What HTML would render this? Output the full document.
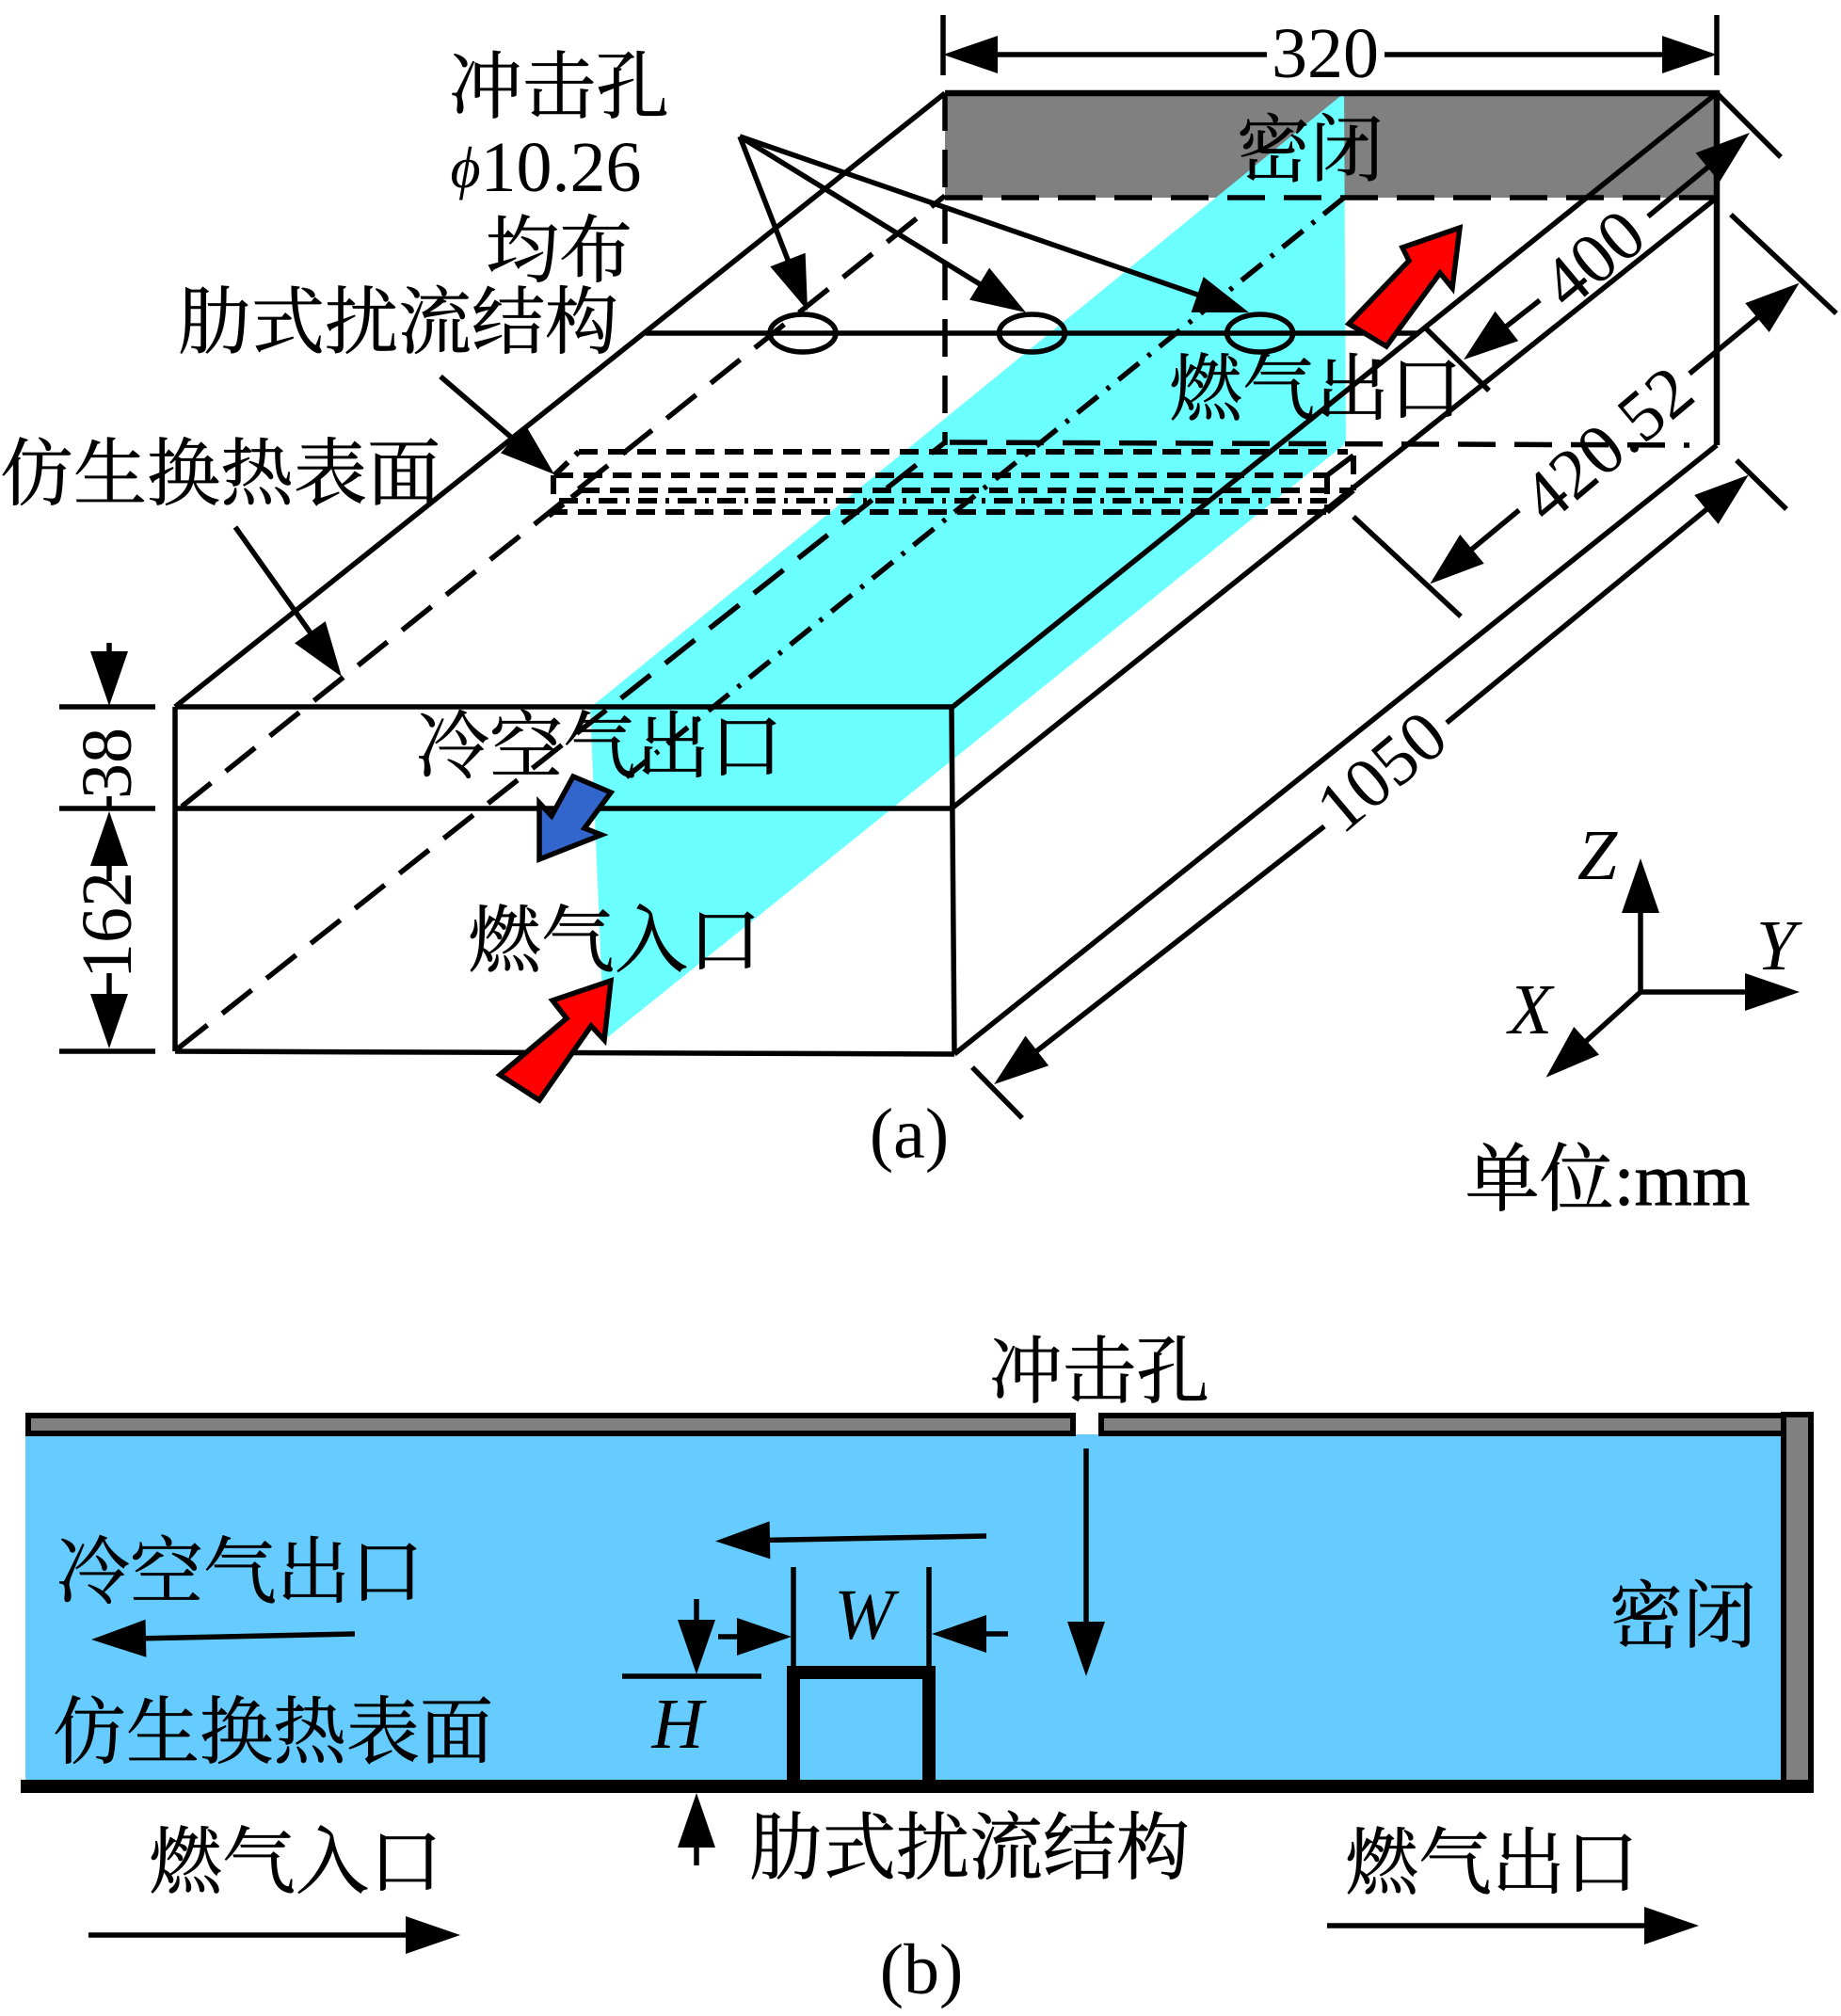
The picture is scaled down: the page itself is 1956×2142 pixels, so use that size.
<!DOCTYPE html>
<html lang="zh">
<head>
<meta charset="utf-8">
<title>冲击孔 diagram</title>
<style>
html,body{margin:0;padding:0;background:#fff;}
svg{display:block;}
.c{font-family:"Liberation Serif","Noto Serif CJK SC",serif;font-size:78px;text-anchor:middle;fill:#000;stroke:#000;stroke-width:.7px;}
.l{font-family:"Liberation Serif",serif;font-size:76px;text-anchor:middle;fill:#000;}
.i{font-style:italic;}
</style>
</head>
<body>
<svg width="1956" height="2142" viewBox="0 0 1956 2142" xmlns="http://www.w3.org/2000/svg">
<defs>
<marker id="a" markerUnits="userSpaceOnUse" markerWidth="64" markerHeight="44" viewBox="0 -22 62 44" refX="48" refY="0" orient="auto">
<path d="M0 -20L58 0L0 20Z" fill="#000"/>
</marker>
</defs>
<rect width="1956" height="2142" fill="#fff"/>

<!-- part (a) -->
<rect x="1004" y="99" width="820" height="111" fill="#808080"/>
<polygon points="1428,99 1430,471 642,1105 627,752" fill="#6bffff"/>

<g fill="none" stroke="#000" stroke-width="5.5">
<path d="M1004 99H1824V473" stroke-width="6.5"/>
<path d="M186 751L1004 99M186 751V1117M186 751H1011M186 859H1011M1011 751L1014 1120M186 1117L1014 1120"/>
<path d="M1011 752L1824 99M1011 859L1824 210M1014 1120L1824 473"/>
<path d="M686 354H1508"/>
<g stroke-dasharray="40 20">
<path d="M1004 99V473"/>
<path d="M193 857L1004 208"/>
<path d="M1004 210H1824"/>
<path d="M189 1114L1004 470"/>
<path d="M1009 470L1795 473"/>
</g>
<path d="M1428 210L660 830" stroke-dasharray="28 12 4 12"/>
<g stroke-width="6" stroke-dasharray="20 11">
<path d="M615 480H1432"/>
<path d="M589 505H1410"/>
<path d="M617 521H1438"/>
<path d="M583 544H1410"/>
<path d="M589 505L615 480M583 548L617 521M588 505V535"/>
<path d="M1410 505V544M1438 484V521"/>
</g>
<path d="M594 532H1410" stroke-width="6" stroke-dasharray="20 9 4 9"/>
<path d="M1410 505L1438 484M1410 544L1438 521"/>
<ellipse cx="853" cy="354" rx="35" ry="20"/>
<ellipse cx="1096.5" cy="354" rx="35" ry="20"/>
<ellipse cx="1338.6" cy="354" rx="35" ry="20"/>
</g>

<g fill="none" stroke="#000" stroke-width="5.5">
<!-- leaders -->
<path d="M786 145L854.4 320.7" marker-end="url(#a)"/>
<path d="M786 145L1081.5 326.8" marker-end="url(#a)"/>
<path d="M786 145L1317.5 328.7" marker-end="url(#a)"/>
<path d="M468 400L581.4 497.5" marker-end="url(#a)"/>
<path d="M250 560L357.2 710.9" marker-end="url(#a)"/>
<!-- 320 -->
<path d="M1002 16V80M1824 16V80"/>
<path d="M1346 58H1012" marker-end="url(#a)"/>
<path d="M1471 58H1814" marker-end="url(#a)"/>
<!-- 400 -->
<path d="M1824 99L1892 167M1514 348L1582 415"/>
<path d="M1751 230L1851.3 147.4" marker-end="url(#a)"/>
<path d="M1636 319L1563 376" marker-end="url(#a)"/>
<!-- 420.52 -->
<path d="M1839 228L1951 333M1438 549L1552 655"/>
<path d="M1795 397L1904 307" marker-end="url(#a)"/>
<path d="M1614 542L1527 614" marker-end="url(#a)"/>
<!-- 1050 -->
<path d="M1845 489L1898 541M1033 1134L1086 1188"/>
<path d="M1537 768L1850 511" marker-end="url(#a)"/>
<path d="M1407 878L1064 1146" marker-end="url(#a)"/>
<!-- left dims -->
<path d="M63 751H165M63 859H165M63 1117H165"/>
<path d="M116 683V740" marker-end="url(#a)"/>
<path d="M116 846V860"/>
<path d="M116 936V872" marker-end="url(#a)"/>
<path d="M116 1034V1104" marker-end="url(#a)"/>
<!-- axes -->
<path d="M1743 1054V922" marker-end="url(#a)"/>
<path d="M1743 1054H1902" marker-end="url(#a)"/>
<path d="M1743 1054L1650 1138" marker-end="url(#a)"/>
</g>

<!-- filled arrows -->
<g stroke="#000" stroke-width="5.5" stroke-linejoin="miter">
<polygon points="649,1042 587,1063 602,1082 531,1142 573,1169 628,1090 642,1105" fill="#ff0000"/>
<polygon points="1551,242 1490,263 1497,277 1433,344 1473,368 1530,290 1543,306" fill="#ff0000"/>
<polygon points="609,825 649,842 621,880 639,887 573,913 573,853 586,867" fill="#3366cc"/>
</g>

<!-- text (a) -->
<text class="c" x="594" y="119">冲击孔</text>
<text class="l" x="580" y="203"><tspan class="i" font-size="62" dy="-4">ϕ</tspan><tspan dy="4">10.26</tspan></text>
<text class="c" x="594" y="293">均布</text>
<text class="c" x="423" y="369">肋式扰流结构</text>
<text class="c" x="234" y="530">仿生换热表面</text>
<text class="c" x="1392" y="186">密闭</text>
<text class="c" x="1398" y="440">燃气出口</text>
<text class="c" x="637" y="820">冷空气出口</text>
<text class="c" x="653" y="1026">燃气入口</text>
<text class="l" x="1408" y="82">320</text>
<text class="l" transform="translate(1693 275) rotate(-40)" y="25">400</text>
<text class="l" transform="translate(1708 472) rotate(-40)" y="25">420.52</text>
<text class="l" transform="translate(1468 820) rotate(-40)" y="25">1050</text>
<text class="l" transform="translate(114 811) rotate(-90)" y="25">38</text>
<text class="l" transform="translate(114 983) rotate(-90)" y="25">162</text>
<text class="l" x="966" y="1230">(a)</text>
<text class="l i" x="1697" y="934">Z</text>
<text class="l i" x="1887" y="1030">Y</text>
<text class="l i" x="1626" y="1098">X</text>
<text class="c" x="1708" y="1280" style="font-size:79px">单位:mm</text>

<!-- part (b) -->
<rect x="27" y="1524" width="1868" height="368" fill="#66ccff"/>
<g stroke="#000" stroke-width="6" fill="#808080">
<rect x="30" y="1504" width="1110" height="19"/>
<rect x="1170" y="1504" width="725" height="19"/>
<rect x="1895" y="1503" width="29" height="399"/>
</g>
<rect x="22" y="1891" width="1904" height="14" fill="#000"/>
<path d="M843 1892V1777H987V1892" fill="none" stroke="#000" stroke-width="14"/>

<g fill="none" stroke="#000" stroke-width="5.5">
<path d="M843 1665V1770M987 1665V1770M661 1781H809"/>
<path d="M763 1739H831" marker-end="url(#a)"/>
<path d="M1071 1736H1000" marker-end="url(#a)"/>
<path d="M740 1699V1769" marker-end="url(#a)"/>
<path d="M740 1982V1915" marker-end="url(#a)"/>
<path d="M1048 1632L770 1637.3" marker-end="url(#a)"/>
<path d="M377 1736L107 1741.8" marker-end="url(#a)"/>
<path d="M94 2056H479" marker-end="url(#a)"/>
<path d="M1410 2046H1795" marker-end="url(#a)"/>
<path d="M1154 1539V1771" marker-end="url(#a)"/>
</g>

<text class="c" x="1168" y="1484">冲击孔</text>
<text class="c" x="255" y="1697">冷空气出口</text>
<text class="c" x="290" y="1867">仿生换热表面</text>
<text class="c" x="314" y="2005">燃气入口</text>
<text class="c" x="1030" y="1990">肋式扰流结构</text>
<text class="c" x="1585" y="2006">燃气出口</text>
<text class="c" x="1788" y="1744">密闭</text>
<text class="l i" x="918" y="1741">W</text>
<text class="l i" x="720" y="1857">H</text>
<text class="l" x="979" y="2118">(b)</text>
</svg>
</body>
</html>
